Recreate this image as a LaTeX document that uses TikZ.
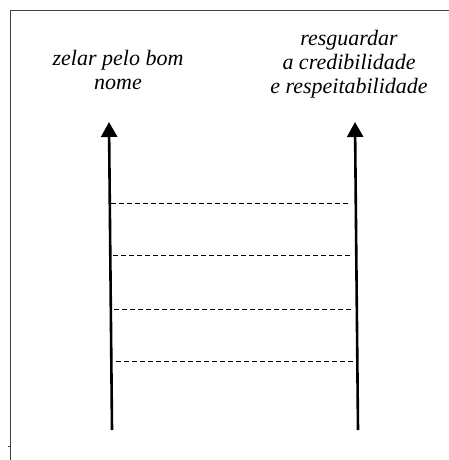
\documentclass[tikz,border=0pt]{standalone}
\usepackage{fontspec}
\setmainfont{Liberation Serif}
\usetikzlibrary{arrows.meta}
\begin{document}
\begin{tikzpicture}[x=1pt,y=-1pt,
  frame/.style={draw=black!75,line width=1.3pt},
  axis/.style={line width=2.6pt,-{Triangle[width=16pt,length=15pt]}},
  link/.style={dashed,dash pattern=on 5pt off 3pt,line width=0.9pt},
  lbl/.style={align=center,inner sep=0pt,anchor=base,font=\fontsize{22}{24}\selectfont\itshape}]
\useasboundingbox (0,0) rectangle (449,460);
\fill[white] (0,0) rectangle (449,460);
\draw[frame] (10.8,460) -- (10.8,10.5) -- (449,10.5);
\draw[black!75,line width=1pt] (8,446) -- (10.8,446);
\coordinate (lb) at (112,430);
\coordinate (lt) at (109,122);
\coordinate (rb) at (358,430);
\coordinate (rt) at (355,122);
\draw[axis] (lb) -- (lt);
\draw[axis] (rb) -- (rt);
\node[lbl] (ltext) at (118,89) {zelar pelo bom\\nome};
\node[lbl] (rtext) at (349,93) {resguardar\\a credibilidade\\e respeitabilidade};
\coordinate (a1) at (111,203); \coordinate (b1) at (350,203);
\coordinate (a2) at (113,255); \coordinate (b2) at (352,255);
\coordinate (a3) at (114,309); \coordinate (b3) at (353,309);
\coordinate (a4) at (116,361); \coordinate (b4) at (355,361);
\draw[link] (a1) -- (b1);
\draw[link] (a2) -- (b2);
\draw[link] (a3) -- (b3);
\draw[link] (a4) -- (b4);
\end{tikzpicture}
\end{document}
